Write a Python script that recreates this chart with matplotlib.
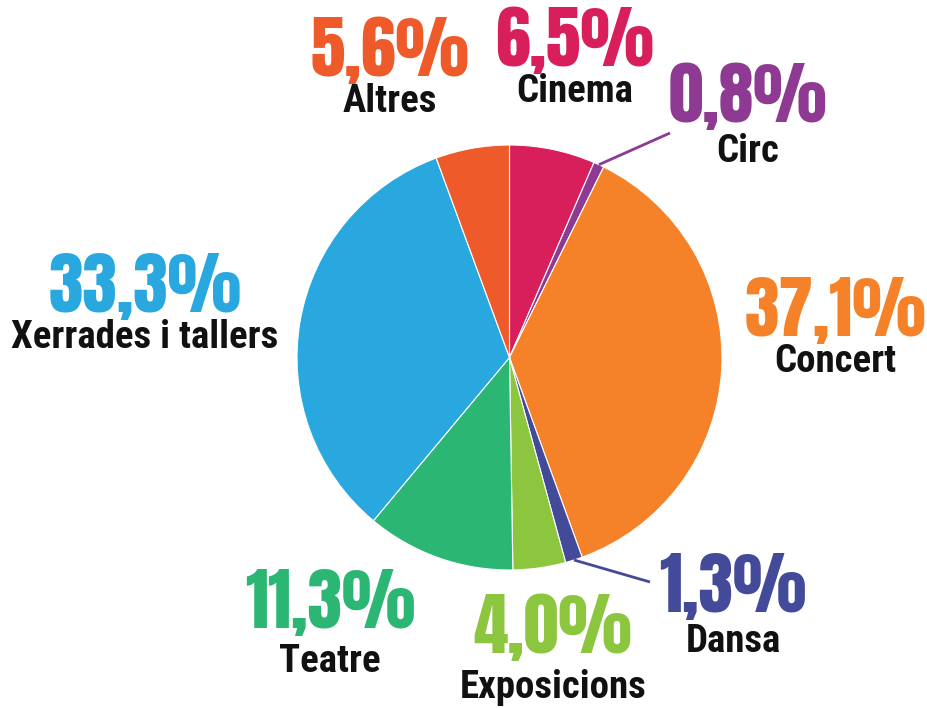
import matplotlib
matplotlib.use("Agg")
import matplotlib.pyplot as plt
import numpy as np
import warnings
warnings.filterwarnings("ignore")

categories = ["Cinema", "Circ", "Concert", "Dansa", "Exposicions", "Teatre", "Xerrades i tallers", "Altres"]
values = [6.5, 0.8, 37.1, 1.3, 4.0, 11.3, 33.3, 5.6]
pct_labels = ["6,5%", "0,8%", "37,1%", "1,3%", "4,0%", "11,3%", "33,3%", "5,6%"]
colors = ["#D81E5B", "#8E3A93", "#F58228", "#434A9A", "#8CC63F", "#2BB673", "#29A8E0", "#EF5A2A"]

W, H = 927, 708
fig = plt.figure(figsize=(W / 100, H / 100), dpi=100)
ax = fig.add_axes([0, 0, 1, 1])

cx, cy, r = 509.5, H - 357.5, 212.5
wedges, _ = ax.pie(values, colors=colors, startangle=90, counterclock=False,
                   center=(cx, cy), radius=r, frame=True,
                   wedgeprops=dict(edgecolor="white", linewidth=0.8))
ax.set_xlim(0, W)
ax.set_ylim(0, H)
ax.set_aspect("equal")
ax.axis("off")

# label layout (pixel positions of percentage centre, name centre)
pos = {
    "Cinema": (575, 40, 92),
    "Circ": (748, 96, 152),
    "Concert": (835, 311, 362),
    "Dansa": (733, 586, 642),
    "Exposicions": (553, 627, 688),
    "Teatre": (330, 602, 662),
    "Xerrades i tallers": (145, 286, 337),
    "Altres": (390, 50, 102),
}

pct_fam = ["Anton", "Oswald", "Bebas Neue", "Open Sans Condensed", "DejaVu Sans"]
name_fam = ["Roboto Condensed", "Barlow Condensed", "Archivo Narrow", "Open Sans Condensed", "DejaVu Sans"]
for cat, pl, col in zip(categories, pct_labels, colors):
    x, yp, yn = pos[cat]
    ax.text(x, H - yp, pl, color=col, fontsize=50, family=pct_fam,
            ha="center", va="center")
    ax.text(x, H - yn, cat, color="#111111", fontsize=28, fontweight="bold", family=name_fam,
            ha="center", va="center")

# leader lines for small slices
leaders = {"Circ": (670, 133), "Dansa": (650, 582)}
for w, cat, col in zip(wedges, categories, colors):
    if cat in leaders:
        ang = np.deg2rad((w.theta1 + w.theta2) / 2)
        x0, y0 = cx + r * np.cos(ang), cy + r * np.sin(ang)
        ex, ey = leaders[cat]
        ax.plot([x0, ex], [y0, H - ey], color=col, lw=2, solid_capstyle="butt")

fig.savefig("out.png", dpi=100, facecolor="white")
